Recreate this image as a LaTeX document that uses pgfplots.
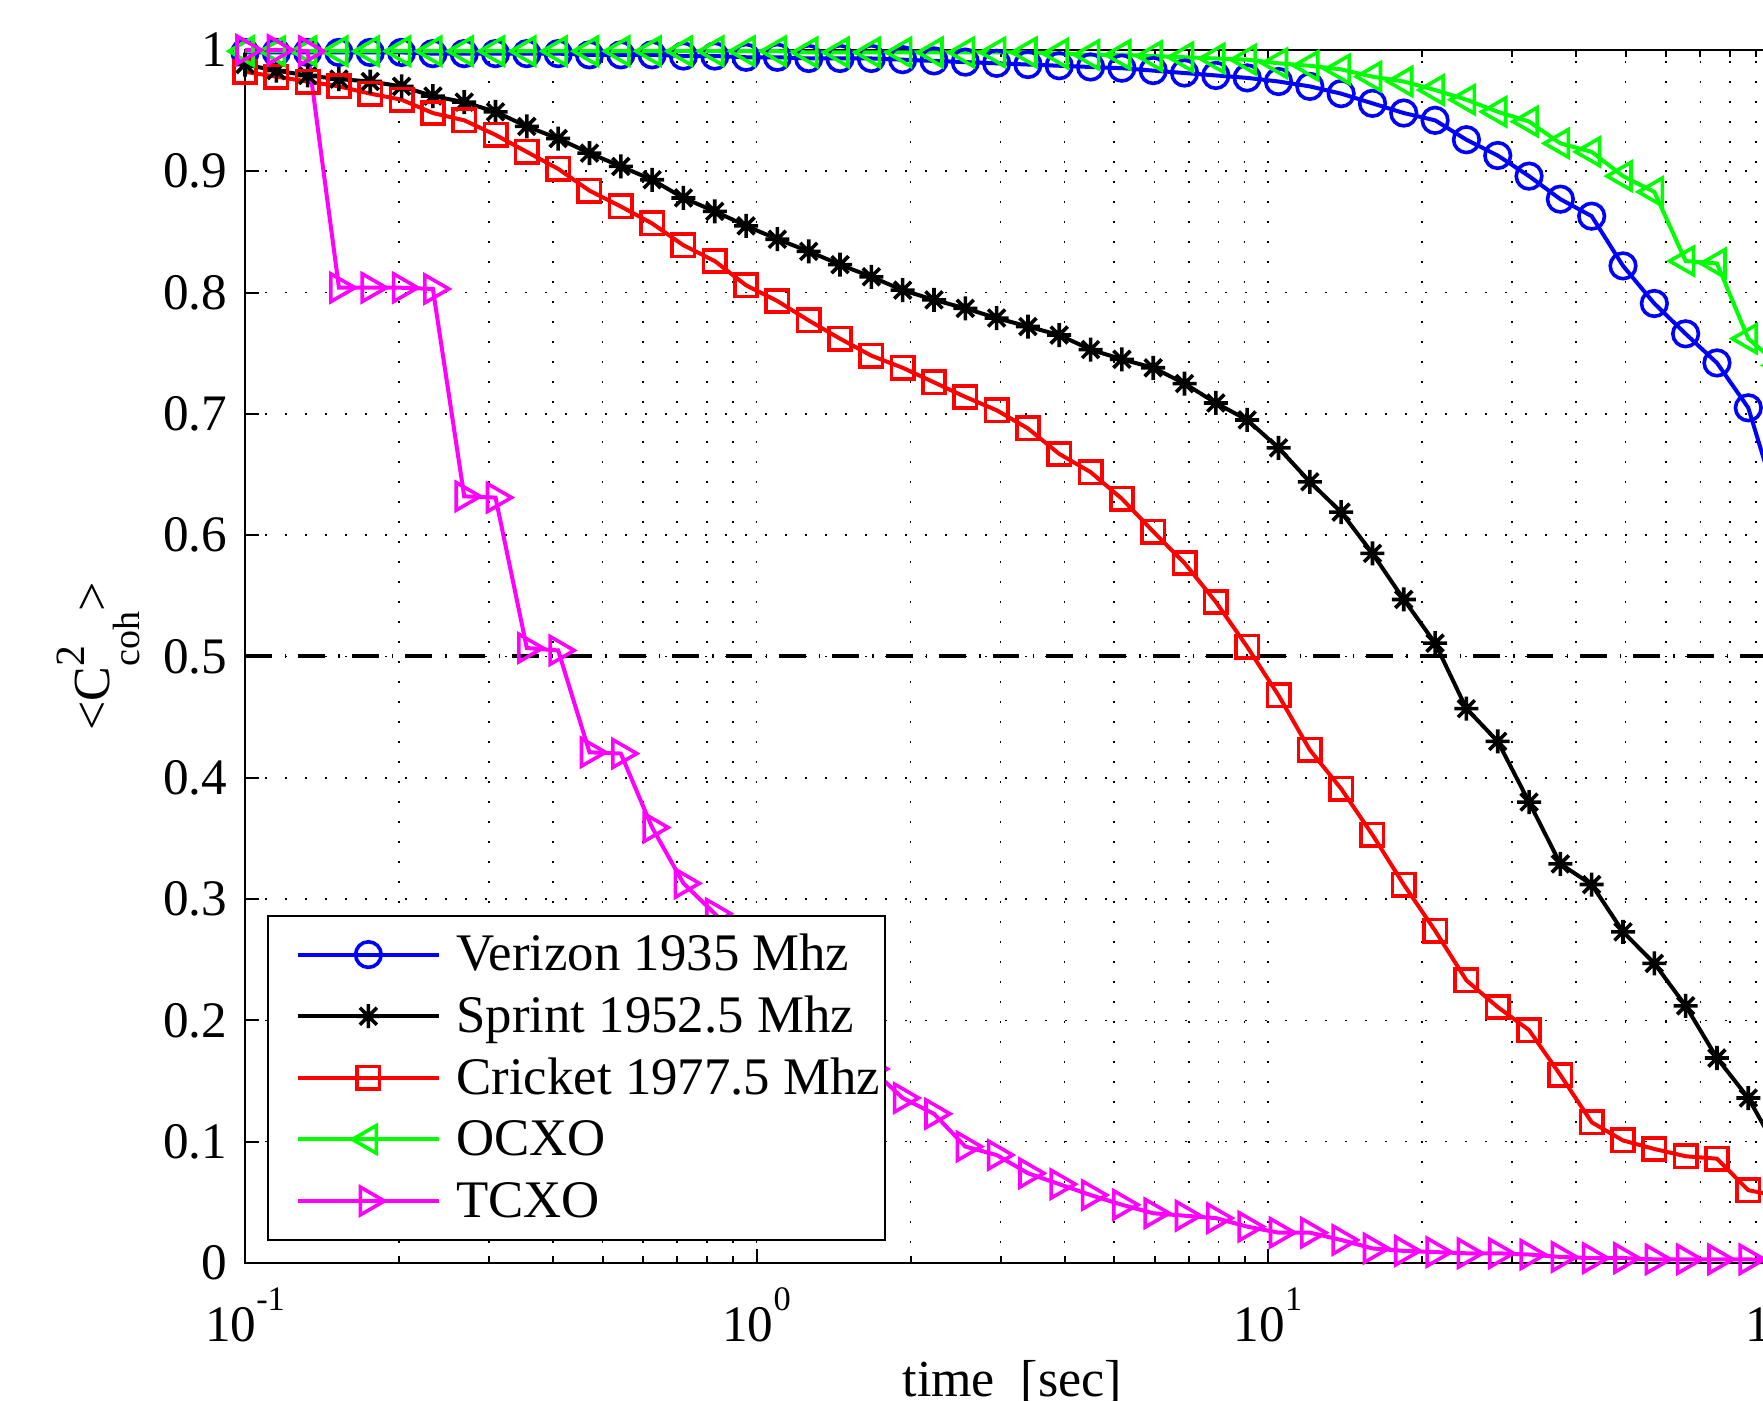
\documentclass[border=0pt]{standalone}
\usepackage{pgfplots}
\pgfplotsset{compat=1.18}
\usepackage{pgfplotstable}
\usepackage{fontspec}
\setmainfont{Liberation Serif}
\definecolor{mmag}{rgb}{1,0,1}
\definecolor{mgreen}{rgb}{0,1,0}
\definecolor{mblue}{rgb}{0,0,1}
\definecolor{mred}{rgb}{1,0,0}

\pgfdeclareplotmark{ast8}{%
 \pgfpathmoveto{\pgfqpoint{0pt}{\pgfplotmarksize}}\pgfpathlineto{\pgfqpoint{0pt}{-\pgfplotmarksize}}%
 \pgfpathmoveto{\pgfqpoint{\pgfplotmarksize}{0pt}}\pgfpathlineto{\pgfqpoint{-\pgfplotmarksize}{0pt}}%
 \pgfpathmoveto{\pgfqpoint{0.7071\pgfplotmarksize}{0.7071\pgfplotmarksize}}\pgfpathlineto{\pgfqpoint{-0.7071\pgfplotmarksize}{-0.7071\pgfplotmarksize}}%
 \pgfpathmoveto{\pgfqpoint{-0.7071\pgfplotmarksize}{0.7071\pgfplotmarksize}}\pgfpathlineto{\pgfqpoint{0.7071\pgfplotmarksize}{-0.7071\pgfplotmarksize}}%
 \pgfusepathqstroke}

\pgfplotstableread{
x V S C O T
0.100000 0.998 0.988 0.982 0.999 1.000
0.115140 0.998 0.983 0.978 0.999 1.000
0.132571 0.998 0.979 0.974 0.999 0.999
0.152642 0.998 0.976 0.970 0.999 0.804
0.175751 0.998 0.974 0.964 0.999 0.804
0.202359 0.998 0.970 0.959 0.999 0.804
0.232995 0.997 0.962 0.948 0.999 0.803
0.268270 0.997 0.957 0.942 0.999 0.632
0.308884 0.997 0.949 0.930 0.999 0.631
0.355648 0.997 0.937 0.916 0.999 0.507
0.409492 0.997 0.927 0.902 0.999 0.505
0.471487 0.996 0.915 0.884 0.999 0.421
0.542868 0.996 0.904 0.871 0.999 0.420
0.625055 0.996 0.893 0.857 0.999 0.359
0.719686 0.995 0.878 0.839 0.999 0.313
0.828643 0.995 0.867 0.826 0.999 0.288
0.954095 0.994 0.855 0.806 0.999 0.260
1.09854 0.994 0.844 0.793 0.999 0.235
1.26486 0.993 0.834 0.777 0.998 0.210
1.45635 0.993 0.823 0.762 0.998 0.185
1.67683 0.993 0.813 0.748 0.998 0.160
1.93070 0.992 0.802 0.738 0.998 0.136
2.22300 0.991 0.794 0.726 0.998 0.123
2.55955 0.990 0.787 0.714 0.998 0.096
2.94705 0.989 0.779 0.703 0.998 0.089
3.39322 0.988 0.772 0.688 0.998 0.074
3.90694 0.987 0.765 0.667 0.997 0.065
4.49843 0.986 0.753 0.652 0.996 0.056
5.17947 0.985 0.745 0.630 0.996 0.048
5.96362 0.983 0.738 0.603 0.995 0.041
6.86649 0.981 0.725 0.577 0.994 0.039
7.90604 0.979 0.709 0.545 0.993 0.037
9.10298 0.977 0.695 0.508 0.992 0.030
10.4811 0.974 0.672 0.468 0.989 0.025
12.0679 0.970 0.644 0.423 0.987 0.025
13.8950 0.964 0.619 0.391 0.984 0.019
15.9986 0.956 0.585 0.353 0.978 0.012
18.4207 0.948 0.547 0.312 0.974 0.010
21.2095 0.942 0.511 0.274 0.967 0.009
24.4205 0.926 0.457 0.233 0.959 0.008
28.1177 0.913 0.430 0.211 0.949 0.008
32.3746 0.896 0.380 0.192 0.941 0.007
37.2759 0.877 0.329 0.155 0.923 0.005
42.9193 0.863 0.312 0.116 0.916 0.004
49.4171 0.822 0.273 0.101 0.896 0.004
56.8987 0.791 0.247 0.094 0.883 0.003
65.5129 0.766 0.212 0.088 0.826 0.003
75.4312 0.742 0.169 0.086 0.824 0.003
86.8511 0.705 0.136 0.060 0.762 0.003
100.000 0.620 0.090 0.055 0.740 0.002
}\datatable

\begin{document}
\begin{tikzpicture}
\begin{axis}[name=ax, scale only axis, width=383.65pt, height=303.25pt,
  xmode=log, xmin=0.1, xmax=100, ymin=0, ymax=1,
  xtick={0.1,1,10,100},
  xticklabels={{10\raisebox{0.6em}{\fontsize{8.6}{9}\selectfont -1}},{10\raisebox{0.6em}{\fontsize{8.6}{9}\selectfont 0}},{10\raisebox{0.6em}{\fontsize{8.6}{9}\selectfont 1}},{10\raisebox{0.6em}{\fontsize{8.6}{9}\selectfont 2}}},
  ytick={0,0.1,0.2,0.3,0.4,0.5,0.6,0.7,0.8,0.9,1},
  yticklabels={0,0.1,0.2,0.3,0.4,0.5,0.6,0.7,0.8,0.9,1},
  tick align=inside, xtick pos=both, ytick pos=both,
  major tick length=3.4pt, minor tick length=1.8pt,
  grid=both,
  major grid style={black, line width=0.4pt, dash pattern=on 0.4pt off 4.6pt},
  minor grid style={black, line width=0.4pt, dash pattern=on 0.4pt off 4.6pt},
  tick style={black, line width=0.5pt},
  axis line style={black, line width=0.6pt},
  clip=false,
  every tick label/.append style={font=\fontsize{12.8}{15}\selectfont},
  xticklabel style={inner sep=0pt, yshift=-6pt},
  yticklabel style={inner sep=0pt, xshift=-4.25pt},
  every axis x label/.style={at={(axis description cs:0.5,0)}, anchor=north, yshift=-24.25pt, inner sep=0pt, font=\fontsize{13}{15}\selectfont},
  every axis y label/.style={at={(axis description cs:-0.08797,0.5)}, rotate=90, anchor=base, inner sep=0pt, font=\fontsize{13}{15}\selectfont},
  xlabel={time~~[sec]},
  ylabel={<C\rlap{\raisebox{6.25pt}{\fontsize{10.4}{11}\selectfont 2}}\raisebox{-7.5pt}{\fontsize{9.5}{10}\selectfont coh}>},
  legend cell align=left,
  legend style={at={(0,0)}, anchor=south west, xshift=5.5pt, yshift=5.5pt, draw=black, line width=0.5pt, fill=white,
    inner xsep=1.25pt, inner ysep=3.65pt, row sep=3.2pt, column sep=3.9pt,
    font=\fontsize{13.2}{15}\selectfont,
    nodes={inner sep=0pt, text height=10.2pt, text depth=2pt}},
  legend image code/.code={\path (0pt,0pt); \draw[mark repeat=2,mark phase=2,#1] plot coordinates {(5.75pt,0pt) (23.35pt,0pt) (40.95pt,0pt)};},
]
\addplot[mblue, line width=1pt, mark=o, mark size=3.2pt, mark options={solid, line width=0.9pt}] table[x=x,y=V]{\datatable};
\addplot[black, line width=1pt, mark=ast8, mark size=3pt, mark options={solid, line width=0.9pt}] table[x=x,y=S]{\datatable};
\addplot[mred, line width=1pt, mark=square, mark size=2.8pt, mark options={solid, line width=0.9pt}] table[x=x,y=C]{\datatable};
\addplot[mgreen, line width=1pt, mark=triangle, mark size=4pt, mark options={solid, line width=0.9pt, rotate=90}] table[x=x,y=O]{\datatable};
\addplot[mmag, line width=1pt, mark=triangle, mark size=4pt, mark options={solid, line width=0.9pt, rotate=-90}] table[x=x,y=T]{\datatable};
\addplot[black, line width=1pt, dash pattern=on 6.7pt off 3.3pt on 0.35pt off 3pt, forget plot] coordinates {(0.1,0.5) (100,0.5)};
\legend{Verizon 1935 Mhz, Sprint 1952.5 Mhz, Cricket 1977.5 Mhz, OCXO, TCXO}
\end{axis}
\pgfresetboundingbox
\path[use as bounding box] ([shift={(-61.25pt,-34.25pt)}]ax.south west) rectangle ([shift={(379.5pt,12.5pt)}]ax.north west);
\end{tikzpicture}
\end{document}
